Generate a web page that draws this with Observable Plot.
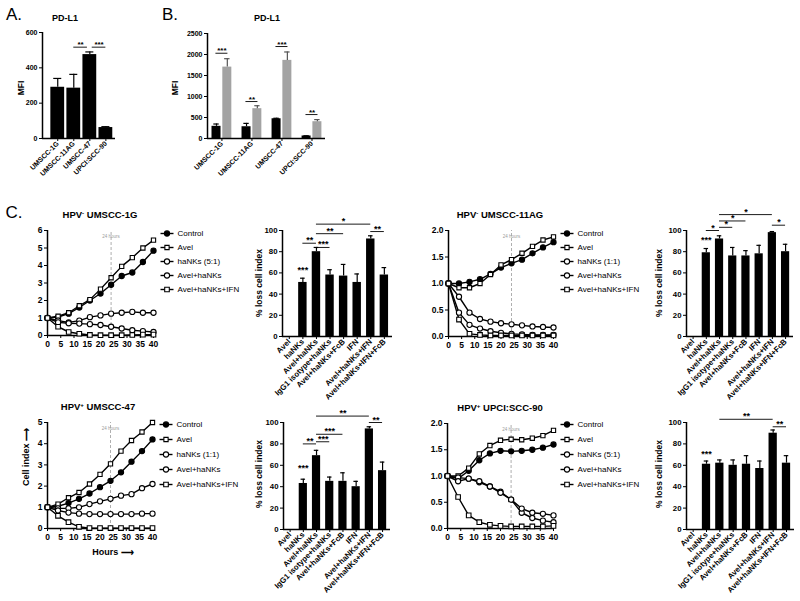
<!DOCTYPE html>
<html><head><meta charset="utf-8">
<script src="https://cdn.jsdelivr.net/npm/d3@7"></script>
<script src="https://cdn.jsdelivr.net/npm/@observablehq/plot@0.6"></script>
<style>
body{margin:0;background:#fff;}
#fig{position:relative;width:800px;height:601px;overflow:hidden;font-family:"Liberation Sans",Arial,Helvetica,sans-serif;color:#000;background:#fff;}
#fig svg{position:absolute;overflow:visible;background:transparent;max-width:none;}
.lbl{position:absolute;white-space:nowrap;line-height:1;}
.lbl sup{font-size:65%;vertical-align:0.45em;line-height:0;}
</style></head><body><div id="fig"></div>
<script>
// ---------- DATA ----------
const cellLines = ["UMSCC-1G", "UMSCC-11AG", "UMSCC-47", "UPCI:SCC-90"];
// Panel A: PD-L1 MFI
const mfiA = [290, 285, 475, 62];
const mfiAErr = [50, 78, 15, 5];
const sigA = [[1, 1.85, 517, "**"], [2.15, 3, 517, "***"]];
// Panel B: PD-L1 MFI untreated (black) vs IFN (gray)
const mfiBBase = [290, 280, 470, 60];
const mfiBBaseErr = [55, 80, 12, 5];
const mfiBIfn = [1700, 710, 1860, 400];
const mfiBIfnErr = [200, 70, 200, 50];
const sigB = [[-0.2, 0.2, 2030, "***"], [0.8, 1.2, 880, "**"], [1.8, 2.2, 2190, "***"], [2.8, 3.2, 570, "**"]];

// Panel C: cell index time courses
const hours = [0, 4, 8, 12, 16, 20, 24, 28, 32, 36, 40];
const seriesNames = ["Control", "Avel", "haNKs", "Avel+haNKs", "Avel+haNKs+IFN"];
const ci1G_control = [1.0, 1.05, 1.25, 1.6, 2.0, 2.4, 2.9, 3.4, 3.6, 4.2, 4.85];
const ci1G_avel = [1.0, 1.1, 1.3, 1.7, 2.05, 2.65, 3.3, 3.95, 4.45, 5.0, 5.45];
const ci1G_hanks = [1.0, 0.85, 0.75, 0.85, 1.05, 1.15, 1.25, 1.3, 1.35, 1.3, 1.3];
const ci1G_avelHanks = [1.0, 0.75, 0.7, 0.68, 0.65, 0.6, 0.5, 0.4, 0.3, 0.25, 0.2];
const ci1G_ifn = [1.0, 0.5, 0.2, 0.1, 0.03, 0.02, 0.02, 0.02, 0.03, 0.05, 0.05];

const ci11AG_control = [1.0, 1.0, 1.03, 1.08, 1.18, 1.3, 1.38, 1.45, 1.57, 1.68, 1.78];
const ci11AG_avel = [1.0, 0.92, 0.92, 1.0, 1.17, 1.35, 1.45, 1.57, 1.7, 1.82, 1.88];
const ci11AG_hanks = [1.0, 0.75, 0.45, 0.33, 0.28, 0.25, 0.23, 0.21, 0.19, 0.18, 0.17];
const ci11AG_avelHanks = [1.0, 0.45, 0.22, 0.15, 0.1, 0.07, 0.05, 0.04, 0.03, 0.03, 0.03];
const ci11AG_ifn = [1.0, 0.32, 0.05, 0.03, 0.02, 0.02, 0.02, 0.02, 0.02, 0.02, 0.02];

const ci47_control = [1.0, 1.05, 1.2, 1.4, 1.65, 1.95, 2.25, 2.65, 3.15, 3.65, 4.2];
const ci47_avel = [1.0, 1.15, 1.45, 1.7, 2.1, 2.55, 3.05, 3.65, 4.15, 4.55, 5.0];
const ci47_hanks = [1.0, 0.95, 0.95, 1.0, 1.15, 1.28, 1.4, 1.55, 1.62, 1.9, 2.1];
const ci47_avelHanks = [1.0, 0.85, 0.75, 0.7, 0.68, 0.68, 0.68, 0.68, 0.68, 0.7, 0.7];
const ci47_ifn = [1.0, 0.6, 0.3, 0.08, 0.02, 0.02, 0.02, 0.02, 0.02, 0.02, 0.02];

const ci90_control = [1.0, 0.95, 1.1, 1.3, 1.43, 1.48, 1.47, 1.48, 1.5, 1.54, 1.6];
const ci90_avel = [1.0, 1.0, 1.15, 1.42, 1.58, 1.68, 1.7, 1.69, 1.72, 1.77, 1.87];
const ci90_hanks = [1.0, 0.97, 0.95, 0.88, 0.8, 0.7, 0.55, 0.3, 0.2, 0.15, 0.12];
const ci90_avelHanks = [1.0, 0.9, 0.95, 0.9, 0.8, 0.68, 0.55, 0.38, 0.3, 0.28, 0.25];
const ci90_ifn = [1.0, 0.6, 0.25, 0.12, 0.07, 0.05, 0.04, 0.04, 0.04, 0.04, 0.05];

// % loss cell index
const lossCategories = ["Avel", "haNKs", "Avel+haNKs", "IgG1 isotype+haNKs", "Avel+haNKs+FcB", "IFN", "Avel+haNKs+IFN", "Avel+haNKs+IFN+FcB"];
const loss1G = [0, 51, 80, 58, 57, 51, 92, 58];
const loss1GErr = [0, 4, 4, 5, 11, 8, 3, 7];
const sig1G = [[1, 1, 60, "***"], [1, 2, 88, "**"], [2, 3, 84, "***"], [2, 4, 97, "**"], [2, 6, 106, "*"], [6, 7, 99, "**"]];
const loss11AG = [0, 79, 92, 76, 76, 78, 98, 80];
const loss11AGErr = [0, 4, 3, 8, 5, 8, 1, 7];
const sig11AG = [[1, 1, 88, "***"], [1, 2, 100, "*"], [2, 3, 103, "*"], [2, 4, 109, "*"], [2, 6, 115, "*"], [6, 7, 105, "*"]];
const loss47 = [0, 43, 69, 45, 45, 40, 94, 55];
const loss47Err = [0, 4, 5, 4, 8, 5, 2, 8];
const sig47 = [[1, 1, 55, "***"], [1, 2, 80, "**"], [2, 3, 82, "***"], [2, 4, 89, "***"], [2, 6, 106, "**"], [6, 7, 100, "**"]];
const loss90 = [0, 61, 62, 60, 61, 57, 90, 62];
const loss90Err = [0, 3, 3, 5, 8, 7, 3, 7];
const sig90 = [[1, 1, 68, "***"], [2, 6, 103, "**"], [6, 7, 96, "**"]];

// ---------- HELPERS ----------
const fig = document.getElementById("fig");
const FONT = '"Liberation Sans", Arial, Helvetica, sans-serif';

function mk(sx, sy, w, h, fx0, fx1, fy0, fy1, fontSize, opts) {
  const svg = Plot.plot({
    width: w, height: h,
    marginLeft: fx0 - sx, marginRight: sx + w - fx1,
    marginTop: fy0 - sy, marginBottom: sy + h - fy1,
    style: {fontFamily: FONT, fontSize: fontSize + "px", fontWeight: "bold", background: "transparent", overflow: "visible", color: "black"},
    ...opts
  });
  svg.style.position = "absolute";
  svg.style.left = sx + "px";
  svg.style.top = sy + "px";
  fig.appendChild(svg);
  return svg;
}

function label(html, cx, cy, size, weight = "bold", rot = 0) {
  const d = document.createElement("div");
  d.className = "lbl";
  d.innerHTML = html;
  d.style.left = cx + "px";
  d.style.top = cy + "px";
  d.style.fontSize = size + "px";
  d.style.fontWeight = weight;
  d.style.transform = "translate(-50%,-50%)" + (rot ? ` rotate(${rot}deg)` : "");
  fig.appendChild(d);
}

function sigMarks(sig, fontSize) {
  return [
    Plot.ruleY(sig.filter(d => d[0] !== d[1]), {x1: d => d[0], x2: d => d[1], y: d => d[2], stroke: "black", strokeWidth: 0.9}),
    Plot.text(sig, {x: d => (d[0] + d[1]) / 2, y: d => d[2], text: d => d[3], dy: 0, lineAnchor: "bottom", fontSize: fontSize, fontWeight: "bold"})
  ];
}

function errMarks(bars, cap, stroke = "black") {
  const b = bars.filter(d => d.e > 0);
  return [
    Plot.ruleX(b, {x: "x", y1: "v", y2: d => d.v + d.e, stroke, strokeWidth: 1.2}),
    Plot.ruleY(b, {x1: d => d.x - cap, x2: d => d.x + cap, y: d => d.v + d.e, stroke, strokeWidth: 1.2})
  ];
}

const symOf = ["circle", "square", "circle", "circle", "square"];
const fillOf = ["black", "white", "white", "white", "white"];
const rOf = [2.6, 2.4, 2.6, 2.6, 2.6];

function lineChart(sx, sy, w, h, fr, yMax, yTicks, yFmt, seriesList) {
  const marks = [
    Plot.ruleX([24], {y1: 0, y2: yMax, stroke: "#9a9a9a", strokeWidth: 0.8, strokeDasharray: "3,2"}),
    Plot.text(["24 hours"], {x: 24, y: yMax, dy: 6, fontSize: 4.5, fill: "#9a9a9a", fontWeight: "normal"})
  ];
  seriesList.forEach(vals => {
    const pts = hours.map((t, i) => ({t, v: vals[i]}));
    marks.push(Plot.line(pts, {x: "t", y: "v", stroke: "black", strokeWidth: 1.4}));
  });
  marks.push(Plot.ruleX([0], {stroke: "black", strokeWidth: 1.5}));
  marks.push(Plot.ruleY([0], {stroke: "black", strokeWidth: 1.5}));
  seriesList.forEach((vals, k) => {
    const pts = hours.map((t, i) => ({t, v: vals[i]}));
    marks.push(Plot.dot(pts, {x: "t", y: "v", symbol: symOf[k], r: rOf[k], fill: fillOf[k], stroke: "black", strokeWidth: 1.1}));
  });
  return mk(sx, sy, w, h, fr[0], fr[1], fr[2], fr[3], 8.5, {
    x: {domain: [0, 40], ticks: [0, 5, 10, 15, 20, 25, 30, 35, 40], tickSize: 3, tickPadding: 2, label: null},
    y: {domain: [0, yMax], ticks: yTicks, tickFormat: yFmt, tickSize: 3, tickPadding: 2, label: null},
    marks
  });
}

function legend(sx, y0, y1, names) {
  const keys = seriesNames;
  return mk(sx, y0 - 10, 110, (y1 - y0) + 20, sx + 6, sx + 19, y0, y1, 8, {
    x: {domain: [0, 1], axis: null},
    y: {domain: keys, type: "point", padding: 0, axis: null},
    marks: [
      Plot.link(keys, {x1: 0, x2: 1, y1: d => d, y2: d => d, stroke: "black", strokeWidth: 1.4}),
      ...keys.map((k, i) => Plot.dot([k], {x: 0.5, y: d => d, symbol: symOf[i], r: rOf[i], fill: fillOf[i], stroke: "black", strokeWidth: 1.1})),
      Plot.text(keys, {x: 1, y: d => d, text: (d, i) => names[i], textAnchor: "start", dx: 4, fontWeight: "normal", fontSize: 8})
    ]
  });
}

function lossChart(sx, sy, w, h, fr, vals, errs, sig) {
  const bars = vals.map((v, i) => ({x: i, v, e: errs[i]}));
  return mk(sx, sy, w, h, fr[0], fr[1], fr[2], fr[3], 7.8, {
    x: {domain: [-0.5, 7.6], ticks: [0, 1, 2, 3, 4, 5, 6, 7], tickFormat: i => lossCategories[i], tickRotate: -45, tickSize: 3, tickPadding: 1, label: null},
    y: {domain: [0, 100], ticks: [0, 20, 40, 60, 80, 100], tickSize: 3, tickPadding: 2, label: null},
    marks: [
      Plot.rect(bars, {x1: d => d.x - 0.31, x2: d => d.x + 0.31, y1: 0, y2: "v", fill: "black"}),
      ...errMarks(bars, 0.17),
      ...sigMarks(sig, 9),
      Plot.ruleX([-0.5], {stroke: "black", strokeWidth: 1.5}),
      Plot.ruleY([0], {stroke: "black", strokeWidth: 1.5})
    ]
  });
}

// ---------- PANEL A ----------
{
  const bars = mfiA.map((v, i) => ({x: i, v, e: mfiAErr[i]}));
  mk(0, 0, 125, 185, 42, 115, 32, 138, 7, {
    x: {domain: [-0.95, 3.6], ticks: [0, 1, 2, 3], tickFormat: i => cellLines[i], tickRotate: -45, tickSize: 3, tickPadding: 1, label: null},
    y: {domain: [0, 600], ticks: [0, 200, 400, 600], tickFormat: d => String(d), tickSize: 3, tickPadding: 2, label: null},
    marks: [
      Plot.rect(bars, {x1: d => d.x - 0.43, x2: d => d.x + 0.43, y1: 0, y2: "v", fill: "black"}),
      ...errMarks(bars, 0.25),
      ...sigMarks(sigA, 8),
      Plot.ruleX([-0.95], {stroke: "black", strokeWidth: 1.5}),
      Plot.ruleY([0], {stroke: "black", strokeWidth: 1.5})
    ]
  });
}
// ---------- PANEL B ----------
{
  const base = mfiBBase.map((v, i) => ({x: i - 0.18, v, e: mfiBBaseErr[i]}));
  const ifn = mfiBIfn.map((v, i) => ({x: i + 0.18, v, e: mfiBIfnErr[i]}));
  mk(130, 0, 210, 185, 207, 325, 33, 138, 7, {
    x: {domain: [-0.48, 3.45], ticks: [0, 1, 2, 3], tickFormat: i => cellLines[i], tickRotate: -45, tickSize: 3, tickPadding: 1, label: null},
    y: {domain: [0, 2500], ticks: [0, 500, 1000, 1500, 2000, 2500], tickFormat: d => String(d), tickSize: 3, tickPadding: 2, label: null},
    marks: [
      Plot.rect(base, {x1: d => d.x - 0.15, x2: d => d.x + 0.15, y1: 0, y2: "v", fill: "black"}),
      Plot.rect(ifn, {x1: d => d.x - 0.15, x2: d => d.x + 0.15, y1: 0, y2: "v", fill: "#a3a3a3"}),
      ...errMarks(base, 0.09),
      ...errMarks(ifn, 0.09, "#555"),
      ...sigMarks(sigB, 8),
      Plot.ruleX([-0.48], {stroke: "black", strokeWidth: 1.5}),
      Plot.ruleY([0], {stroke: "black", strokeWidth: 1.5})
    ]
  });
}

// ---------- PANEL C ----------
const f1 = d3.format(".1f");
lineChart(0, 195, 160, 165, [47, 153, 230, 335], 6, [0, 1, 2, 3, 4, 5, 6], d => String(d),
  [ci1G_control, ci1G_avel, ci1G_hanks, ci1G_avelHanks, ci1G_ifn]);
lineChart(400, 195, 160, 165, [448, 553, 230, 336], 2, [0, 0.5, 1, 1.5, 2], f1,
  [ci11AG_control, ci11AG_avel, ci11AG_hanks, ci11AG_avelHanks, ci11AG_ifn]);
lineChart(0, 385, 160, 175, [47, 152, 422, 528], 5, [0, 1, 2, 3, 4, 5], d => String(d),
  [ci47_control, ci47_avel, ci47_hanks, ci47_avelHanks, ci47_ifn]);
lineChart(400, 385, 160, 165, [447, 553, 423, 528], 2, [0, 0.5, 1, 1.5, 2], f1,
  [ci90_control, ci90_avel, ci90_hanks, ci90_avelHanks, ci90_ifn]);

legend(154, 233, 289, ["Control", "Avel", "haNKs (5:1)", "Avel+haNKs", "Avel+haNKs+IFN"]);
legend(554, 233, 289, ["Control", "Avel", "haNKs (1:1)", "Avel+haNKs", "Avel+haNKs+IFN"]);
legend(153, 424, 484, ["Control", "Avel", "haNKs (1:1)", "Avel+haNKs", "Avel+haNKs+IFN"]);
legend(554, 424, 484, ["Control", "Avel", "haNKs (5:1)", "Avel+haNKs", "Avel+haNKs+IFN"]);

lossChart(240, 195, 160, 200, [282, 392, 230, 336], loss1G, loss1GErr, sig1G);
lossChart(640, 195, 160, 200, [686, 793, 230, 336], loss11AG, loss11AGErr, sig11AG);
lossChart(240, 385, 160, 216, [283, 390, 422, 529], loss47, loss47Err, sig47);
lossChart(640, 385, 160, 216, [686, 794, 422, 529], loss90, loss90Err, sig90);

// ---------- TEXT ----------
label("A.", 14, 14, 17, "normal");
label("B.", 170, 14, 17, "normal");
label("C.", 14, 212, 17, "normal");
label("PD-L1", 65, 18, 9);
label("PD-L1", 267, 18, 9);
label("MFI", 21, 88, 8.5, "bold", -90);
label("MFI", 175, 88, 8.5, "bold", -90);
label("HPV<sup>-</sup> UMSCC-1G", 100, 215, 9.5);
label("HPV<sup>-</sup> UMSCC-11AG", 500, 215, 9.5);
label("HPV<sup>+</sup> UMSCC-47", 98, 407, 9.5);
label("HPV<sup>+</sup> UPCI:SCC-90", 500, 408, 9.5);
label("% loss cell index", 259, 283, 8.5, "bold", -90);
label("% loss cell index", 659, 283, 8.5, "bold", -90);
label("% loss cell index", 259, 474, 8.5, "bold", -90);
label("% loss cell index", 659, 474, 8.5, "bold", -90);
label("Cell index ⟶", 26, 457, 9, "bold", -90);
label("Hours ⟶", 113, 552, 9);
</script></body></html>
